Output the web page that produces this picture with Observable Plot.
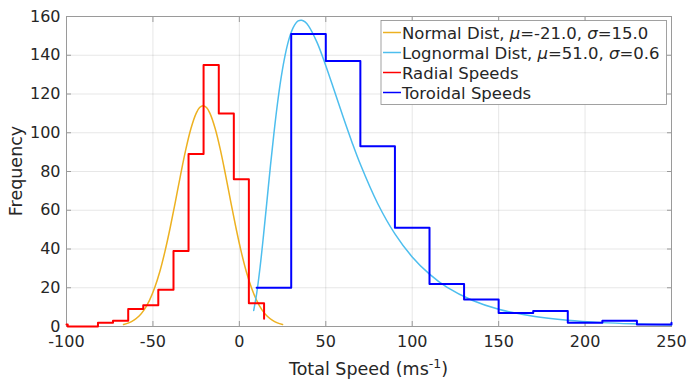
<!DOCTYPE html>
<html>
<head>
<meta charset="utf-8">
<script src="https://cdn.jsdelivr.net/npm/d3@7"></script>
<script src="https://cdn.jsdelivr.net/npm/@observablehq/plot@0.6"></script>
<style>
  body { margin: 0; background: #fff; }
  #chart svg { display: block; }
</style>
</head>
<body>
<div id="chart"></div>
<script>
// Radial speeds histogram (stairs): bin left edges and counts
const radialEdges  = [-100, -99.3, -90.6, -81.8, -73.1, -64.3, -55.6, -46.9, -38.1, -29.4, -20.7, -11.9, -3.2, 5.5, 14.3];
const radialCounts = [1, 0, 0, 2, 3, 9, 11, 19, 39, 89, 135, 110, 76, 12, 4];

// Toroidal speeds histogram (stairs)
const toroidalEdges  = [10, 30, 50, 70, 90, 110, 130, 150, 170, 190, 210, 230, 250];
const toroidalCounts = [20, 151, 137, 93, 51, 22, 14, 7, 8, 2, 3, 1, 2];

// Fitted normal curve (mu = -21, sigma = 15), scaled to counts
const normalX = [-67, -64, -61, -58, -55, -52, -49, -46, -43, -40, -37, -34, -31, -28, -25, -23, -21,
                 -19, -17, -14, -11, -8, -5, -2, 1, 4, 7, 10, 13, 16, 19, 22, 25];
const normalY = [1.0, 1.9, 3.3, 5.4, 8.7, 13.5, 20.0, 28.4, 38.9, 51.1, 64.5, 78.3, 91.3, 102.2, 110.0, 113.0, 114.0,
                 113.0, 110.0, 102.2, 91.3, 78.3, 64.5, 51.1, 38.9, 28.4, 20.0, 13.5, 8.7, 5.4, 3.3, 1.9, 1.0];

// Fitted lognormal curve (median 51, sigma 0.6), scaled to counts
const lognormalX = [8.3, 10, 12, 14, 16, 18, 20, 22, 24, 26, 28, 30, 32, 34, 36, 38, 40, 45, 50, 55,
                    60, 65, 70, 80, 90, 100, 110, 120, 135, 150, 170, 190, 210, 230, 250];
const lognormalY = [8.3, 16.9, 30.7, 47.3, 65.1, 83.0, 99.7, 114.7, 127.5, 137.9, 146.0, 151.9, 155.7, 157.7, 158.1, 157.2, 155.2, 146.5, 134.6, 121.5,
                    108.2, 95.5, 83.7, 63.5, 47.8, 35.9, 27.0, 20.3, 13.4, 8.9, 5.3, 3.2, 2.0, 1.3, 0.8];

const xTicks = [-100, -50, 0, 50, 100, 150, 200, 250];
const yTicks = [0, 20, 40, 60, 80, 100, 120, 140, 160];

const legendItems = [
  {name: ["Normal Dist, ", "μ", "=-21.0, ", "σ", "=15.0"], color: "#EDB120"},
  {name: ["Lognormal Dist, ", "μ", "=51.0, ", "σ", "=0.6"], color: "#4DBEEE"},
  {name: ["Radial Speeds"], color: "#FF0000"},
  {name: ["Toroidal Speeds"], color: "#0000FF"}
];

const pairs = (xs, ys) => xs.map((x, i) => ({x, y: ys[i]}));
const radial = pairs(radialEdges, radialCounts);
const toroidal = pairs(toroidalEdges, toroidalCounts);
const normal = pairs(normalX, normalY);
const lognormal = pairs(lognormalX, lognormalY);

const textColor = "#262626";
const axisGray = "#9a9a9a";

const chart = Plot.plot({
  width: 687,
  height: 379,
  marginLeft: 66,
  marginRight: 16,
  marginTop: 16,
  marginBottom: 53,
  style: {fontFamily: "DejaVu Sans", fontSize: "16px", color: textColor, background: "#fff"},
  x: {domain: [-100, 250], label: null},
  y: {domain: [0, 160], label: null},
  marks: [
    Plot.gridX(xTicks, {stroke: textColor, strokeOpacity: 0.11}),
    Plot.gridY(yTicks, {stroke: textColor, strokeOpacity: 0.11}),
    Plot.frame({stroke: axisGray}),
    // inward tick marks on all four sides
    Plot.axisX(xTicks, {anchor: "bottom", tickSize: -5, stroke: axisGray, tickFormat: () => "", label: null}),
    Plot.axisX(xTicks, {anchor: "top", tickSize: -5, stroke: axisGray, tickFormat: () => "", label: null}),
    Plot.axisY(yTicks, {anchor: "left", tickSize: -5, stroke: axisGray, tickFormat: () => "", label: null}),
    Plot.axisY(yTicks, {anchor: "right", tickSize: -5, stroke: axisGray, tickFormat: () => "", label: null}),
    // tick labels
    Plot.axisX(xTicks, {anchor: "bottom", tickSize: 0, tickPadding: 9, tickFormat: d => String(d), fill: textColor, label: null}),
    Plot.axisY(yTicks, {anchor: "left", tickSize: 0, tickPadding: 6, tickFormat: d => String(d), fill: textColor, label: null}),
    // fitted curves, then the two histograms on top
    Plot.line(normal, {x: "x", y: "y", stroke: "#EDB120", strokeWidth: 1.5, curve: "catmull-rom"}),
    Plot.line(lognormal, {x: "x", y: "y", stroke: "#4DBEEE", strokeWidth: 1.5, curve: "catmull-rom"}),
    Plot.line(radial, {x: "x", y: "y", stroke: "#FF0000", strokeWidth: 2, curve: "step-after"}),
    Plot.line(toroidal, {x: "x", y: "y", stroke: "#0000FF", strokeWidth: 2, curve: "step-after"})
  ]
});

const svg = d3.select(chart);

// axis titles
const xTitle = svg.append("text")
  .attr("x", 368.5).attr("y", 374.5)
  .attr("text-anchor", "middle")
  .attr("fill", textColor)
  .style("font-family", "DejaVu Sans")
  .style("font-size", "17.5px");
xTitle.append("tspan").text("Total Speed (ms");
xTitle.append("tspan").attr("dy", -7).style("font-size", "12.5px").text("-1");
xTitle.append("tspan").attr("dy", 7).text(")");

svg.append("text")
  .attr("transform", "translate(21.5,171) rotate(-90)")
  .attr("text-anchor", "middle")
  .attr("fill", textColor)
  .style("font-family", "DejaVu Sans")
  .style("font-size", "17.5px")
  .text("Frequency");

// legend box
const legend = svg.append("g")
  .attr("text-anchor", "start")
  .style("font-family", "DejaVu Sans")
  .style("font-size", "16.5px");
legend.append("rect")
  .attr("x", 381).attr("y", 20.5).attr("width", 285.5).attr("height", 84)
  .attr("fill", "#fff").attr("stroke", "#8a8a8a").attr("stroke-width", 0.8);
legendItems.forEach((item, i) => {
  const base = 39 + 20 * i;
  legend.append("line")
    .attr("x1", 383).attr("x2", 401)
    .attr("y1", base - 6.5).attr("y2", base - 6.5)
    .attr("stroke", item.color).attr("stroke-width", 1.5);
  const t = legend.append("text")
    .attr("x", 402).attr("y", base)
    .attr("text-anchor", "start")
    .attr("fill", textColor);
  item.name.forEach(part => {
    const s = t.append("tspan").text(part);
    if (part === "μ" || part === "σ") s.style("font-style", "italic");
  });
});

document.getElementById("chart").append(chart);
</script>
</body>
</html>
